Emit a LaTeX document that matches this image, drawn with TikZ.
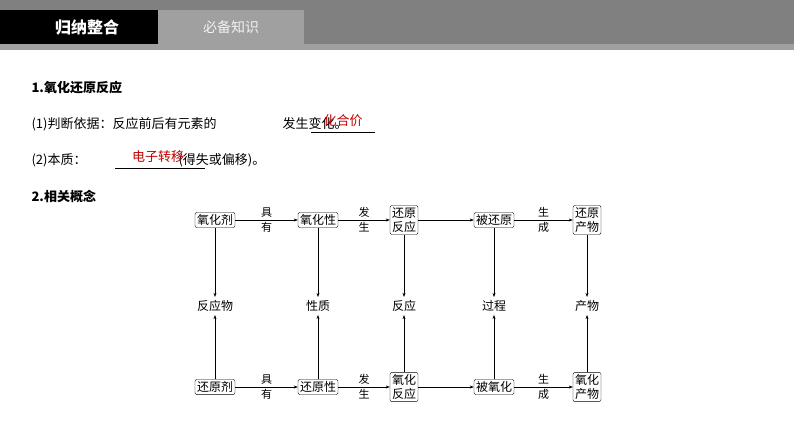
\documentclass[tikz,border=0pt]{standalone}
\usepackage{fontspec}
\setmainfont{Liberation Sans}
\newfontfamily\cjk{Noto Sans CJK SC}
\usetikzlibrary{arrows.meta, positioning}
\definecolor{hdrgray}{RGB}{128,128,128}
\definecolor{tabgray}{RGB}{160,160,160}
\definecolor{ansred}{RGB}{192,0,0}
\tikzset{
  box/.style={draw, rounded corners=2pt, align=center, inner sep=2pt, font=\cjk\fontsize{12}{14}\selectfont},
  lbl/.style={font=\cjk\fontsize{12}{14}\selectfont},
  side/.style={font=\cjk\fontsize{11}{13}\selectfont, align=center, inner sep=0pt},
  arr/.style={-{Stealth[length=4pt,width=3pt]}}
}
\begin{document}
\begin{tikzpicture}[x=1pt,y=-1pt]
\useasboundingbox (0,0) rectangle (794,447);
% header band
\fill [hdrgray] (0,0) rectangle (794,46);
\fill [black] (0,10) rectangle (158,44);
\fill [tabgray] (158,10) rectangle (304,44);
\fill [tabgray] (0,44) rectangle (794,50);
\node [font=\cjk\bfseries\fontsize{16}{18}\selectfont, text=white] (ttl) at (87,27) {归纳整合};
\node [font=\cjk\fontsize{14}{16}\selectfont, text=white!90!gray] (tab) at (231,27) {必备知识};

% text lines
\node [anchor=west, font=\cjk\bfseries\fontsize{13}{15}\selectfont] (h1) at (28,88) {1.氧化还原反应};
\node [anchor=west, font=\cjk\fontsize{13}{15}\selectfont] (l1) at (28,124) {(1)判断依据：反应前后有元素的\hspace{66pt}发生变化。};
\draw (311,132) -- (375,132);
\node [font=\cjk\fontsize{13}{15}\selectfont, text=ansred] (a1) at (343,121) {化合价};
\node [anchor=west, font=\cjk\fontsize{13}{15}\selectfont] (l2) at (28,160) {(2)本质：\hspace{92pt}(得失或偏移)。};
\draw (115,168) -- (205,168);
\node [font=\cjk\fontsize{13}{15}\selectfont, text=ansred] (a2) at (158,157) {电子转移};
\node [anchor=west, font=\cjk\bfseries\fontsize{13}{15}\selectfont] (h2) at (28,196) {2.相关概念};

% top row
\node [box] (oxa) at (215,220) {氧化剂};
\node [box] (oxp) at (318,220) {氧化性};
\node [box] (red) at (404,220) {还原\\反应};
\node [box] (bred) at (494,220) {被还原};
\node [box] (rpro) at (587,220) {还原\\产物};
% middle
\node [lbl] (m1) at (215,306) {反应物};
\node [lbl] (m2) at (318,306) {性质};
\node [lbl] (m3) at (404,306) {反应};
\node [lbl] (m4) at (494,306) {过程};
\node [lbl] (m5) at (587,306) {产物};
% bottom row
\node [box] (rda) at (215,387) {还原剂};
\node [box] (rdp) at (318,387) {还原性};
\node [box] (oxr) at (404,387) {氧化\\反应};
\node [box] (box) at (494,387) {被氧化};
\node [box] (opro) at (587,387) {氧化\\产物};

\foreach \a/\b/\t in {oxa/oxp/{具\\[2pt]有}, oxp/red/{发\\[2pt]生}, red/bred/{}, bred/rpro/{生\\[2pt]成},
                      rda/rdp/{具\\[2pt]有}, rdp/oxr/{发\\[2pt]生}, oxr/box/{}, box/opro/{生\\[2pt]成}}
  \draw [arr] (\a) -- node [side] {\t} (\b);
\foreach \a/\b in {oxa/m1, oxp/m2, red/m3, bred/m4, rpro/m5, rda/m1, rdp/m2, oxr/m3, box/m4, opro/m5}
  \draw [arr] (\a) -- (\b);
\end{tikzpicture}
\end{document}
